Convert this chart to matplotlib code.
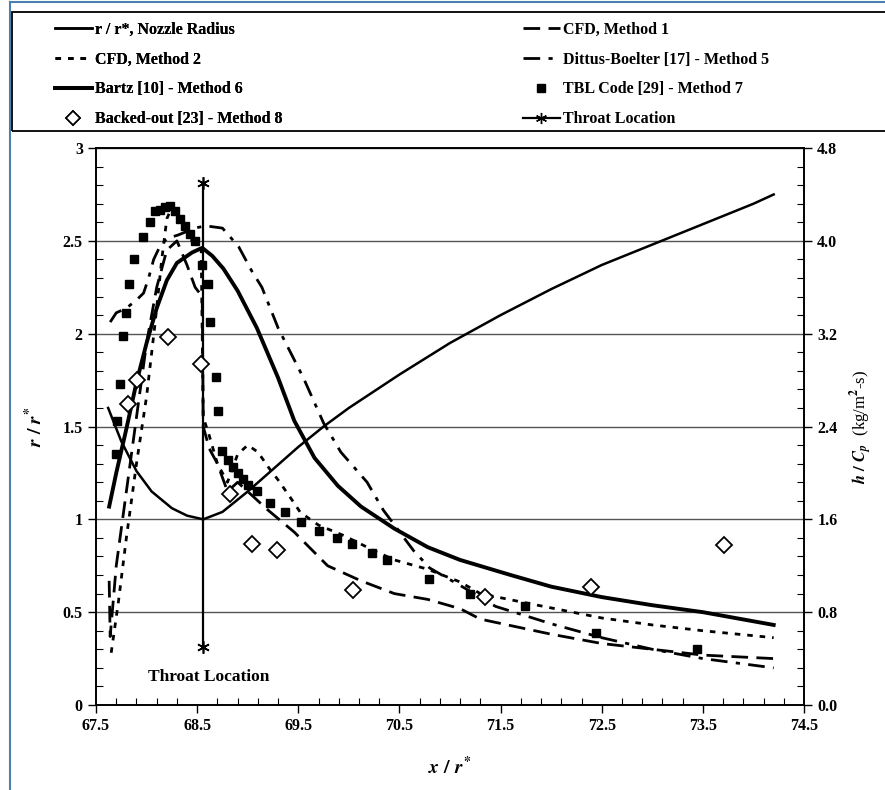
import matplotlib
matplotlib.use("Agg")
import matplotlib.pyplot as plt
from matplotlib.lines import Line2D
from matplotlib.patches import Rectangle

plt.rcParams["font.family"] = "Liberation Serif"
plt.rcParams["font.weight"] = "bold"
plt.rcParams["mathtext.fontset"] = "stix"

# --- data ---
# nozzle radius, left axis (r / r*)
noz_x = [67.62, 67.75, 67.9, 68.05, 68.25, 68.4, 68.56, 68.75, 69.0, 69.25, 69.5, 69.75,
         70.0, 70.5, 71.0, 71.5, 72.0, 72.5, 73.0, 73.5, 74.0, 74.2]
noz_y = [1.6, 1.42, 1.26, 1.15, 1.06, 1.02, 1.0, 1.04, 1.15, 1.27, 1.39, 1.5,
         1.6, 1.78, 1.95, 2.1, 2.24, 2.37, 2.48, 2.59, 2.7, 2.75]

# heat transfer curves, right axis (h / Cp)
cfd1_x = [67.63, 67.64, 67.7, 67.8, 67.9, 68.0, 68.1, 68.2, 68.3, 68.4, 68.48, 68.55, 68.56,
          68.62, 68.7, 68.8, 68.9, 69.0, 69.2, 69.46, 69.79, 70.12, 70.45, 70.78, 71.1, 71.3,
          72.0, 72.5, 73.0, 73.5, 74.2]
cfd1_y = [1.07, 0.59, 1.2, 1.84, 2.48, 3.12, 3.6, 3.92, 4.0, 3.79, 3.6, 3.52, 2.4,
          2.21, 2.08, 1.84, 1.92, 1.84, 1.68, 1.49, 1.2, 1.07, 0.96, 0.91, 0.83, 0.74,
          0.61, 0.53, 0.48, 0.43, 0.4]

cfd2_x = [67.65, 67.72, 67.8, 67.9, 68.0, 68.08, 68.15, 68.2, 68.25, 68.35, 68.45, 68.54, 68.56,
          68.62, 68.7, 68.8, 68.9, 69.0, 69.1, 69.22, 69.3, 69.42, 69.52, 69.7, 69.95, 70.25,
          70.45, 70.78, 71.1, 71.3, 71.75, 72.5, 73.0, 73.5, 74.2]
cfd2_y = [0.45, 0.88, 1.44, 2.08, 2.66, 3.26, 3.84, 4.19, 4.29, 4.16, 4.0, 3.92, 2.48,
          2.32, 2.08, 1.92, 2.16, 2.24, 2.18, 2.03, 1.94, 1.79, 1.66, 1.55, 1.46, 1.33,
          1.25, 1.17, 1.06, 0.96, 0.88, 0.75, 0.69, 0.64, 0.58]

dittus_x = [67.64, 67.7, 67.8, 67.9, 67.97, 68.02, 68.07, 68.13, 68.2, 68.31, 68.48, 68.58,
            68.75, 68.91, 69.04, 69.14, 69.3, 69.55, 69.75, 69.92, 70.18, 70.34, 70.64, 70.8,
            71.02, 71.3, 71.45, 72.0, 72.5, 73.0, 73.5, 74.2]
dittus_y = [3.3, 3.38, 3.42, 3.49, 3.55, 3.68, 3.84, 3.95, 4.02, 4.05, 4.11, 4.13,
            4.11, 3.95, 3.74, 3.6, 3.25, 2.82, 2.43, 2.18, 1.92, 1.68, 1.33, 1.18,
            1.07, 0.93, 0.85, 0.7, 0.58, 0.48, 0.4, 0.32]

bartz_x = [67.63, 67.7, 67.8, 67.9, 68.0, 68.1, 68.2, 68.3, 68.45, 68.55, 68.65, 68.76, 68.9,
           69.09, 69.3, 69.46, 69.66, 69.89, 70.12, 70.45, 70.78, 71.1, 71.6, 72.0, 72.5,
           73.0, 73.5, 74.2]
bartz_y = [1.71, 2.0, 2.38, 2.78, 3.12, 3.42, 3.66, 3.81, 3.9, 3.94, 3.87, 3.76, 3.57,
           3.25, 2.82, 2.45, 2.13, 1.89, 1.71, 1.52, 1.36, 1.25, 1.12, 1.02, 0.93,
           0.86, 0.8, 0.69]

tbl_x = [67.70, 67.71, 67.74, 67.77, 67.8, 67.83, 67.88, 67.96, 68.03, 68.08, 68.13, 68.18,
         68.23, 68.28, 68.33, 68.38, 68.43, 68.48, 68.55, 68.61, 68.63, 68.69, 68.71, 68.75,
         68.8, 68.85, 68.9, 68.95, 69.0, 69.09, 69.22, 69.37, 69.53, 69.7, 69.88, 70.03,
         70.23, 70.38, 70.79, 71.2, 71.74, 72.44, 73.44]
tbl_y = [2.16, 2.45, 2.77, 3.18, 3.38, 3.63, 3.84, 4.03, 4.16, 4.26, 4.27, 4.29,
         4.3, 4.26, 4.19, 4.13, 4.06, 4.0, 3.79, 3.63, 3.3, 2.83, 2.53, 2.19,
         2.11, 2.05, 2.0, 1.95, 1.9, 1.84, 1.74, 1.66, 1.58, 1.5, 1.44, 1.39,
         1.31, 1.25, 1.09, 0.96, 0.85, 0.62, 0.48]

backed_x = [67.82, 67.91, 68.21, 68.54, 68.82, 69.04, 69.29, 70.04, 71.35, 72.39, 73.71]
backed_y = [2.59, 2.8, 3.17, 2.94, 1.82, 1.39, 1.34, 0.99, 0.93, 1.02, 1.38]

throat_x = [68.56, 68.56]
throat_y = [0.31, 2.81]

xticks = [67.5, 68.5, 69.5, 70.5, 71.5, 72.5, 73.5, 74.5]
lticks = [0, 0.5, 1, 1.5, 2, 2.5, 3]
rticks = [0.0, 0.8, 1.6, 2.4, 3.2, 4.0, 4.8]

fig = plt.figure(figsize=(8.85, 7.9), dpi=100)
ax = fig.add_axes([0.1085, 0.1076, 0.80, 0.705])
ax2 = ax.twinx()

# gridlines on the left scale
for v in lticks[1:]:
    ax.axhline(v, color="#555555", lw=1.0, zorder=0)

ax.plot(noz_x, noz_y, color="black", lw=1.8)
ax.plot(throat_x, throat_y, color="black", lw=1.6, marker=(6, 2, 0), ms=9, mew=1.2)

ax2.plot(cfd1_x, cfd1_y, color="black", lw=2.0, ls=(0, (6, 3)))
ax2.plot(cfd2_x, cfd2_y, color="black", lw=2.0, ls=(0, (2, 2.5)))
ax2.plot(dittus_x, dittus_y, color="black", lw=2.0, ls=(0, (6, 3, 1.5, 3)))
ax2.plot(bartz_x, bartz_y, color="black", lw=2.8)
ax2.plot(tbl_x, tbl_y, ls="none", marker="s", ms=6, color="black")
ax2.plot(backed_x, backed_y, ls="none", marker="D", ms=8, mfc="white", mec="black", mew=1.3)

ax.set_xlim(67.5, 74.5)
ax.set_ylim(0, 3)
ax2.set_ylim(0, 4.8)
ax.set_xticks(xticks)
ax.set_xticklabels([f"{v:.1f}" for v in xticks])
ax.set_yticks(lticks)
ax.set_yticklabels([f"{v:g}" for v in lticks])
ax2.set_yticks(rticks)
ax2.set_yticklabels([f"{v:.1f}" for v in rticks])
ax.set_xticks([67.5 + 0.2 * i for i in range(36)], minor=True)
ax.set_yticks([0.1 * i for i in range(31)], minor=True)
ax2.set_yticks([0.16 * i for i in range(31)], minor=True)

for a in (ax, ax2):
    a.tick_params(which="major", direction="out", length=6, width=1.0, labelsize=11.5)
    a.tick_params(which="minor", direction="in", length=5, width=0.8)
    for s in a.spines.values():
        s.set_linewidth(1.2)

ax.set_xlabel(r"$x\ /\ r^{*}$", fontsize=14, labelpad=16)
ax.set_ylabel(r"$r\ /\ r^{*}$", fontsize=14, labelpad=12)
ax2.set_ylabel(r"$h\ /\ C_p$  (kg/m$^2$-s)", fontsize=12, labelpad=8)

ax.text(68.01, 0.15, "Throat Location", fontsize=12.5, fontweight="bold", va="center")

# legend: two frameless columns inside one box
h_left = [
    Line2D([], [], color="black", lw=1.8),
    Line2D([], [], color="black", lw=2.0, ls=(0, (2, 2.5))),
    Line2D([], [], color="black", lw=2.8),
    Line2D([], [], ls="none", marker="D", ms=7, mfc="white", mec="black", mew=1.2),
]
l_left = ["r / r*, Nozzle Radius", "CFD, Method 2",
          "Bartz [10] - Method 6", "Backed-out [23] - Method 8"]
h_right = [
    Line2D([], [], color="black", lw=2.0, ls=(0, (6, 3))),
    Line2D([], [], color="black", lw=2.0, ls=(0, (6, 3, 1.5, 3))),
    Line2D([], [], ls="none", marker="s", ms=6, color="black"),
    Line2D([], [], color="black", lw=1.6, marker=(6, 2, 0), ms=8),
]
l_right = ["CFD, Method 1", "Dittus-Boelter [17] - Method 5",
           "TBL Code [29] - Method 7", "Throat Location"]

common = dict(loc="upper left", fontsize=11.5, handlelength=2.3, handletextpad=0.2,
              labelspacing=0.86, borderaxespad=0.0, borderpad=0.0, frameon=False)
leg1 = fig.legend(h_left, l_left, bbox_to_anchor=(55 / 885, 1 - 22 / 790), **common)
fig.legend(h_right, l_right, bbox_to_anchor=(523 / 885, 1 - 22 / 790), **common)
fig.add_artist(leg1)

# legend box, running off the right edge like the scan
fig.add_artist(Rectangle((12 / 885, 1 - 131 / 790), 0.99, 119 / 790,
                         transform=fig.transFigure, fill=False, edgecolor="black", lw=1.3))

# blue screenshot frame on the left and top
fig.add_artist(Line2D([10 / 885, 10 / 885], [0, 0.997], transform=fig.transFigure,
                      color="#4a7fb0", lw=1.5))
fig.add_artist(Line2D([10 / 885, 1], [0.997, 0.997], transform=fig.transFigure,
                      color="#4a7fb0", lw=1.5))

fig.savefig("out.png", dpi=100)
